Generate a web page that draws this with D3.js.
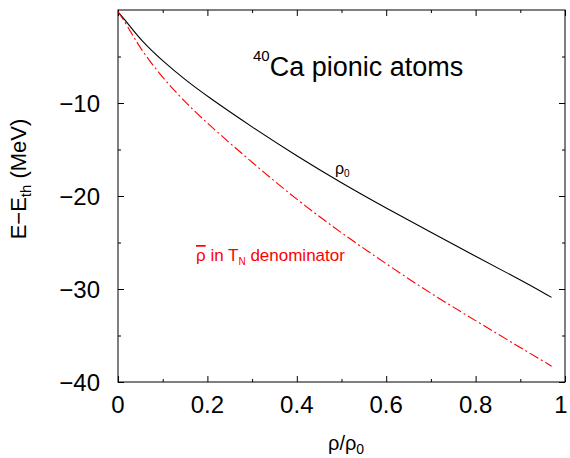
<!DOCTYPE html>
<html>
<head>
<meta charset="utf-8">
<script src="https://cdn.jsdelivr.net/npm/d3@7"></script>
<style>
body { margin: 0; background: #fff; }
text { font-family: "Liberation Sans", Arial, sans-serif; }
</style>
</head>
<body>
<script>
var canvasWidth = 570;
var canvasHeight = 458;
var margin = { top: 10, right: 5, bottom: 76, left: 118 };

var width = canvasWidth - margin.left - margin.right;
var height = canvasHeight - margin.top - margin.bottom;

// values
var densityRatio = [0, 0.02, 0.05, 0.1, 0.15, 0.2, 0.3, 0.4, 0.5, 0.6, 0.7, 0.8, 0.9, 0.97];
var energyRho0   = [-0.2, -1.3, -3.2, -5.5, -7.5, -9.3, -12.6, -15.7, -18.6, -21.3, -23.9, -26.5, -29.0, -30.9];
var energyRhoBar = [-0.2, -1.6, -4.2, -7.3, -9.9, -12.2, -16.4, -20.4, -24.0, -27.3, -30.5, -33.4, -36.3, -38.3];

var xTickLabels = [0, 0.2, 0.4, 0.6, 0.8, 1];
var xMinorTicks = [0.1, 0.3, 0.5, 0.7, 0.9];
var yTickLabels = [-10, -20, -30, -40];
var yMinorTicks = [-5, -15, -25, -35];

var svg = d3.select("body").append("svg")
    .attr("width", canvasWidth)
    .attr("height", canvasHeight)

var g = svg.append("g")
    .attr("transform", "translate(" + margin.left + "," + margin.top + ")")

var xScale = d3.scaleLinear().domain([0, 1]).range([0, width]);
var yScale = d3.scaleLinear().domain([-40, 0]).range([height, 0]);

// ticks on all four sides, pointing in
function tickAxis(axisFn, scale, vals, size, translate) {
    var a = g.append("g")
        .attr("transform", translate)
        .call(axisFn(scale).tickValues(vals).tickSize(size).tickFormat(""))
    a.select(".domain").remove()
    a.selectAll("line").attr("stroke", "#000")
}
tickAxis(d3.axisTop, xScale, xTickLabels, 6, "translate(0," + height + ")")
tickAxis(d3.axisTop, xScale, xMinorTicks, 3, "translate(0," + height + ")")
tickAxis(d3.axisBottom, xScale, xTickLabels, 6, "translate(0,0)")
tickAxis(d3.axisBottom, xScale, xMinorTicks, 3, "translate(0,0)")
tickAxis(d3.axisRight, yScale, yTickLabels, 6, "translate(0,0)")
tickAxis(d3.axisRight, yScale, yMinorTicks, 3, "translate(0,0)")
tickAxis(d3.axisLeft, yScale, yTickLabels, 6, "translate(" + width + ",0)")
tickAxis(d3.axisLeft, yScale, yMinorTicks, 3, "translate(" + width + ",0)")

g.append("rect")
    .attr("width", width)
    .attr("height", height)
    .attr("fill", "none")
    .attr("stroke", "#000")

// tick labels
g.selectAll(".xlab").data(xTickLabels).enter().append("text")
    .attr("x", d => xScale(d) - (d == 1 ? 4 : 0))
    .attr("y", height + 31)
    .attr("text-anchor", "middle")
    .attr("font-size", "24px")
    .text(d => d)

g.selectAll(".ylab").data(yTickLabels).enter().append("text")
    .attr("x", -18)
    .attr("y", d => yScale(d) + 9)
    .attr("text-anchor", "end")
    .attr("font-size", "24px")
    .text(d => "\u2212" + Math.abs(d))

// axis titles
var xt = svg.append("text")
    .attr("x", 328)
    .attr("y", 450)
    .attr("font-size", "20px")
xt.append("tspan").text("\u03c1/\u03c1")
xt.append("tspan").attr("font-size", "14px").attr("dy", 4).text("0")

var yt = svg.append("text")
    .attr("transform", "translate(26,179) rotate(-90)")
    .attr("text-anchor", "middle")
    .attr("font-size", "22px")
yt.append("tspan").text("E\u2212E")
yt.append("tspan").attr("font-size", "15px").attr("dy", 5).text("th")
yt.append("tspan").attr("dy", -5).text(" (MeV)")

// curves
var pts0 = densityRatio.map((d, i) => [d, energyRho0[i]])
var ptsBar = densityRatio.map((d, i) => [d, energyRhoBar[i]])

var line = d3.line()
    .x(d => xScale(d[0]))
    .y(d => yScale(d[1]))
    .curve(d3.curveBasis)

g.append("path")
    .datum(pts0)
    .attr("d", line)
    .style("fill", "none")
    .style("stroke", "#000")
    .style("stroke-width", 1.1)

g.append("path")
    .datum(ptsBar)
    .attr("d", line)
    .style("fill", "none")
    .style("stroke", "#f00")
    .style("stroke-width", 1.1)
    .style("stroke-dasharray", "10,3,2,3")

// labels inside the plot
var title = svg.append("text")
    .attr("x", 253)
    .attr("y", 76)
    .attr("font-size", "27px")
title.append("tspan").attr("font-size", "15px").attr("dy", -15).text("40")
title.append("tspan").attr("dy", 15).text("Ca pionic atoms")

var l0 = svg.append("text")
    .attr("x", 335)
    .attr("y", 174)
    .attr("font-size", "16px")
l0.append("tspan").text("\u03c1")
l0.append("tspan").attr("font-size", "10px").attr("dy", 3).text("0")

var lb = svg.append("text")
    .attr("x", 196)
    .attr("y", 261)
    .attr("font-size", "17px")
    .attr("fill", "#f00")
lb.append("tspan").style("text-decoration", "overline").text("\u03c1")
lb.append("tspan").text(" in T")
lb.append("tspan").attr("font-size", "10px").attr("dy", 4).text("N")
lb.append("tspan").attr("dy", -4).text(" denominator")
</script>
</body>
</html>
